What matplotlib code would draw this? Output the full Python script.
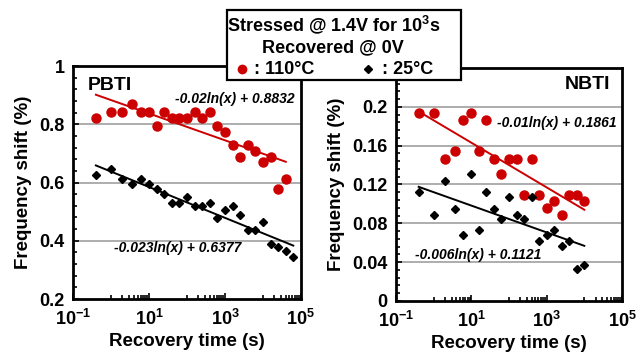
import numpy as np
import matplotlib
matplotlib.use('Agg')
import matplotlib.pyplot as plt
from matplotlib.patches import Rectangle
from matplotlib.ticker import FixedLocator, FixedFormatter

plt.rcParams['font.family'] = ['Liberation Sans', 'DejaVu Sans']
plt.rcParams['font.weight'] = 'bold'
plt.rcParams['mathtext.fontset'] = 'custom'
plt.rcParams['mathtext.rm'] = 'Liberation Sans:bold'
plt.rcParams['mathtext.bf'] = 'Liberation Sans:bold'
plt.rcParams['mathtext.it'] = 'Liberation Sans:bold:italic'

# Время восстановления (с)
t = [0.4, 1, 2, 3.6, 6, 10, 16, 25, 40, 63, 100, 160, 250, 400, 630,
     1000, 1600, 2500, 4000, 6300, 10000, 16000, 25000, 40000, 63000]

# PBTI
pbti_hot = [0.821, 0.843, 0.843, 0.870, 0.843, 0.843, 0.795, 0.843, 0.821, 0.821,
            0.821, 0.843, 0.821, 0.843, 0.795, 0.775, 0.729, 0.689, 0.729, 0.710,
            0.669, 0.689, 0.577, 0.613]
pbti_room = [0.626, 0.646, 0.611, 0.594, 0.611, 0.594, 0.577, 0.561, 0.531, 0.531,
             0.549, 0.518, 0.518, 0.531, 0.477, 0.504, 0.518, 0.489, 0.438, 0.438,
             0.463, 0.389, 0.378, 0.366, 0.346]
# NBTI
nbti_hot = [0.194, 0.194, 0.146, 0.1545, 0.186, 0.194, 0.1545, 0.186, 0.146, 0.131,
            0.146, 0.146, 0.109, 0.146, 0.109, 0.096, 0.103, 0.089, 0.109, 0.109, 0.103]
nbti_room = [0.112, 0.089, 0.124, 0.095, 0.068, 0.131, 0.073, 0.112, 0.095, 0.084,
             0.107, 0.089, 0.084, 0.107, 0.062, 0.068, 0.073, 0.057, 0.062, 0.033, 0.037]

# коэффициенты трендов: a*ln(x) + b
fit_pbti_hot = (-0.02, 0.8832)
fit_pbti_room = (-0.023, 0.6377)
fit_nbti_hot = (-0.01, 0.1861)
fit_nbti_room = (-0.006, 0.1121)

RED = '#cc0000'

xmajor = [1e-1, 1e1, 1e3, 1e5]
xlabels = ['$10^{-1}$', '$10^{1}$', '$10^{3}$', '$10^{5}$']
xminor = [m * 10.0 ** k for k in (0, 2, 4) for m in range(1, 10)]

fig = plt.figure(figsize=(6.42, 3.56), dpi=100)
ax1 = fig.add_axes([0.1137, 0.160, 0.355, 0.6545])
ax2 = fig.add_axes([0.6168, 0.1545, 0.352, 0.6545])


def trend(ax, tt, coef, color):
    x = np.array([tt[0], tt[-1]])
    ax.plot(x, coef[0] * np.log(x) + coef[1], color=color, lw=1.4, zorder=3)


def setup(ax, ylim, yticks, ylabels, yminor, grid):
    ax.set_xscale('log')
    ax.set_xlim(1e-1, 1e5)
    ax.set_ylim(*ylim)
    ax.xaxis.set_major_locator(FixedLocator(xmajor))
    ax.xaxis.set_major_formatter(FixedFormatter(xlabels))
    ax.xaxis.set_minor_locator(FixedLocator(xminor))
    ax.xaxis.set_minor_formatter(FixedFormatter([''] * len(xminor)))
    ax.yaxis.set_major_locator(FixedLocator(yticks))
    ax.yaxis.set_major_formatter(FixedFormatter(ylabels))
    ax.yaxis.set_minor_locator(FixedLocator(yminor))
    for g in grid:
        ax.axhline(g, color='#a0a0a0', lw=1.2, zorder=1)
    ax.tick_params(which='both', direction='in', width=1.2, labelsize=13)
    ax.tick_params(which='major', length=4)
    ax.tick_params(which='minor', length=3)
    ax.tick_params(axis='y', pad=6)
    ax.tick_params(axis='x', pad=7)
    for s in ax.spines.values():
        s.set_linewidth(2)
    ax.set_xlabel('Recovery time (s)', fontsize=13.5, fontweight='bold', labelpad=3)
    ax.set_ylabel('Frequency shift (%)', fontsize=13.5, fontweight='bold', labelpad=5)


# PBTI
ax1.plot(t[:len(pbti_hot)], pbti_hot, 'o', color=RED, ms=6.5, mec=RED, zorder=4)
ax1.plot(t[:len(pbti_room)], pbti_room, 'D', color='black', ms=4, zorder=4)
trend(ax1, t[:len(pbti_hot)], fit_pbti_hot, RED)
trend(ax1, t[:len(pbti_room)], fit_pbti_room, 'black')
setup(ax1, (0.2, 1.0), [0.2, 0.4, 0.6, 0.8, 1.0], ['0.2', '0.4', '0.6', '0.8', '1'],
      np.arange(0.2, 1.001, 0.04), [0.4, 0.6, 0.8])
ax1.text(0.066, 0.918, 'PBTI', transform=ax1.transAxes, fontsize=14,
         fontweight='bold', ha='left', va='center')
ax1.text(0.974, 0.858, '-0.02ln(x) + 0.8832', transform=ax1.transAxes, fontsize=10,
         fontweight='bold', style='italic', ha='right', va='center')
ax1.text(0.458, 0.219, '-0.023ln(x) + 0.6377', transform=ax1.transAxes, fontsize=10,
         fontweight='bold', style='italic', ha='center', va='center')

# NBTI
ax2.plot(t[:len(nbti_hot)], nbti_hot, 'o', color=RED, ms=6.5, mec=RED, zorder=4)
ax2.plot(t[:len(nbti_room)], nbti_room, 'D', color='black', ms=4, zorder=4)
trend(ax2, t[:len(nbti_hot)], fit_nbti_hot, RED)
trend(ax2, t[:len(nbti_room)], fit_nbti_room, 'black')
setup(ax2, (0, 0.24), [0, 0.04, 0.08, 0.12, 0.16, 0.2],
      ['0', '0.04', '0.08', '0.12', '0.16', '0.2'],
      np.arange(0, 0.2401, 0.008), [0.04, 0.08, 0.12, 0.16, 0.2])
ax2.text(0.947, 0.931, 'NBTI', transform=ax2.transAxes, fontsize=14,
         fontweight='bold', ha='right', va='center')
ax2.text(0.712, 0.764, '-0.01ln(x) + 0.1861', transform=ax2.transAxes, fontsize=10,
         fontweight='bold', style='italic', ha='center', va='center')
ax2.text(0.365, 0.197, '-0.006ln(x) + 0.1121', transform=ax2.transAxes, fontsize=10,
         fontweight='bold', style='italic', ha='center', va='center')

# Легенда-рамка сверху
W, H = 642.0, 356.0
fig.add_artist(Rectangle((227 / W, 1 - 80 / H), 234 / W, 70 / H,
                         transform=fig.transFigure, facecolor='white',
                         edgecolor='black', lw=1.6, zorder=10))
fig.text(334 / W, 1 - 25 / H, 'Stressed @ 1.4V for 10$^{3}$s', fontsize=13,
         fontweight='bold', ha='center', va='center', zorder=11)
fig.text(333 / W, 1 - 48 / H, 'Recovered @ 0V', fontsize=13,
         fontweight='bold', ha='center', va='center', zorder=11)
fig.add_artist(plt.Line2D([242 / W], [1 - 69 / H], marker='o', color=RED, ms=6,
                          transform=fig.transFigure, zorder=11))
fig.text(254 / W, 1 - 69 / H, ': 110°C', fontsize=13, fontweight='bold',
         ha='left', va='center', zorder=11)
fig.add_artist(plt.Line2D([368 / W], [1 - 69 / H], marker='D', color='black', ms=4,
                          transform=fig.transFigure, zorder=11))
fig.text(382 / W, 1 - 69 / H, ': 25°C', fontsize=13, fontweight='bold',
         ha='left', va='center', zorder=11)

fig.savefig('out.png', dpi=100)
